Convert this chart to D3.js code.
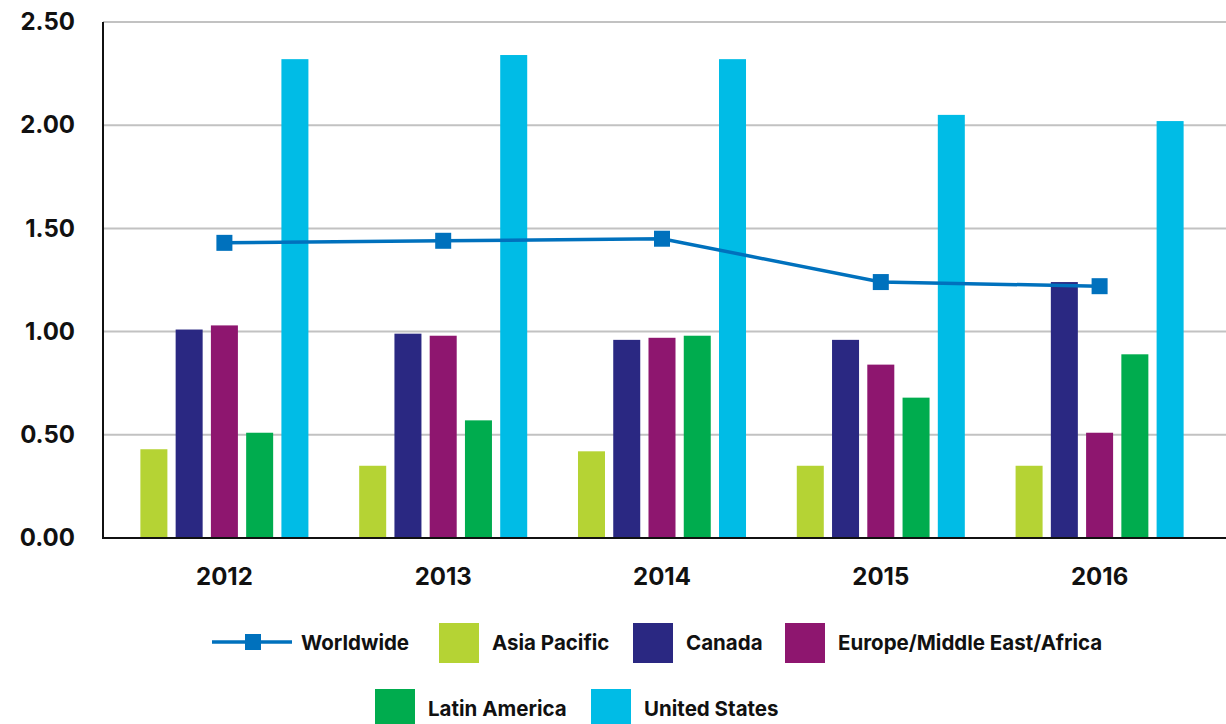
<!DOCTYPE html>
<html>
<head>
<meta charset="utf-8">
<script src="https://cdn.jsdelivr.net/npm/d3@7"></script>
<style>
  html, body { margin: 0; padding: 0; background: #fff; }
  svg { display: block; font-family: Inter, "Open Sans", sans-serif; }
</style>
</head>
<body>
<svg id="chart" width="1226" height="724"></svg>
<script>
// Years along the x axis
const years = ["2012", "2013", "2014", "2015", "2016"];

// Regional bar series
const seriesNames = ["Asia Pacific", "Canada", "Europe/Middle East/Africa", "Latin America", "United States"];
const asiaPacific   = [0.43, 0.35, 0.42, 0.35, 0.35];
const canada        = [1.01, 0.99, 0.96, 0.96, 1.24];
const emea          = [1.03, 0.98, 0.97, 0.84, 0.51];
const latinAmerica  = [0.51, 0.57, 0.98, 0.68, 0.89];
const unitedStates  = [2.32, 2.34, 2.32, 2.05, 2.02];

// Worldwide line series
const worldwide = [1.43, 1.44, 1.45, 1.24, 1.22];

// Y axis ticks
const yTicks = [0, 0.5, 1.0, 1.5, 2.0, 2.5];

const seriesValues = [asiaPacific, canada, emea, latinAmerica, unitedStates];
const seriesColors = ["#b5d334", "#2a2882", "#8e166f", "#00ac4e", "#00bce6"];
const lineColor = "#0071bd";

const svg = d3.select("#chart");
const plot = { left: 103, right: 1226, top: 22, bottom: 538 };

const x0 = d3.scaleBand().domain(years).range([115, 1209]).paddingInner(0).paddingOuter(0);
const x1 = d3.scaleBand().domain(seriesNames).range([0, x0.bandwidth()])
  .paddingInner(0.234).paddingOuter(0.72);
const y = d3.scaleLinear().domain([0, 2.5]).range([plot.bottom, plot.top]);

// Horizontal gridlines
svg.append("g")
  .selectAll("line")
  .data(yTicks.filter(t => t > 0))
  .join("line")
  .attr("x1", plot.left).attr("x2", plot.right)
  .attr("y1", d => y(d)).attr("y2", d => y(d))
  .attr("stroke", "#c2c2c2").attr("stroke-width", 2);

// Y axis labels
const yAxis = d3.axisLeft(y).tickValues(yTicks).tickFormat(d3.format(".2f")).tickSize(0).tickPadding(28);
const gy = svg.append("g").attr("transform", `translate(${plot.left},0)`).call(yAxis);
gy.select(".domain").remove();
gy.selectAll("text")
  .attr("font-family", "Inter, sans-serif")
  .attr("font-size", 24).attr("font-weight", 700).attr("fill", "#111");

// Bars
const rows = years.map((yr, i) => ({ year: yr, values: seriesNames.map((s, k) => ({ name: s, value: seriesValues[k][i], color: seriesColors[k] })) }));
svg.append("g")
  .selectAll("g")
  .data(rows)
  .join("g")
  .attr("transform", d => `translate(${x0(d.year)},0)`)
  .selectAll("rect")
  .data(d => d.values)
  .join("rect")
  .attr("x", d => x1(d.name))
  .attr("width", x1.bandwidth())
  .attr("y", d => y(d.value))
  .attr("height", d => y(0) - y(d.value))
  .attr("fill", d => d.color);

// Axis lines
svg.append("line").attr("x1", plot.left).attr("x2", plot.left).attr("y1", plot.top).attr("y2", plot.bottom + 1)
  .attr("stroke", "#111").attr("stroke-width", 2);
svg.append("line").attr("x1", plot.left).attr("x2", plot.right).attr("y1", plot.bottom).attr("y2", plot.bottom)
  .attr("stroke", "#111").attr("stroke-width", 2);

// X axis labels
const xAxis = d3.axisBottom(x0).tickSize(0).tickPadding(30);
const gx = svg.append("g").attr("transform", `translate(0,${plot.bottom})`).call(xAxis);
gx.select(".domain").remove();
gx.selectAll("text")
  .attr("font-family", "Inter, sans-serif")
  .attr("font-size", 24).attr("font-weight", 700).attr("fill", "#111");

// Worldwide line with square markers
const cx = yr => x0(yr) + x0.bandwidth() / 2;
const line = d3.line().x((d, i) => cx(years[i])).y(d => y(d));
svg.append("path").datum(worldwide)
  .attr("d", line).attr("fill", "none")
  .attr("stroke", lineColor).attr("stroke-width", 3.5);
svg.append("g").selectAll("rect")
  .data(worldwide)
  .join("rect")
  .attr("x", (d, i) => cx(years[i]) - 8)
  .attr("y", d => y(d) - 8)
  .attr("width", 16).attr("height", 16)
  .attr("fill", lineColor);

// Legend
const legend = svg.append("g").attr("font-family", "Inter, sans-serif")
  .attr("font-size", 20.5).attr("font-weight", 700).attr("fill", "#111");

const lw = legend.append("g").attr("transform", "translate(212,642)");
lw.append("line").attr("x1", 0).attr("x2", 80).attr("y1", 0).attr("y2", 0)
  .attr("stroke", lineColor).attr("stroke-width", 3.5);
lw.append("rect").attr("x", 33).attr("y", -8).attr("width", 16).attr("height", 16).attr("fill", lineColor);
lw.append("text").attr("x", 89).attr("y", 8).text("Worldwide");

const swatchPos = [[439, 623], [633, 623], [785, 623], [375, 689], [591, 689]];
seriesNames.forEach((name, k) => {
  const g = legend.append("g").attr("transform", `translate(${swatchPos[k][0]},${swatchPos[k][1]})`);
  g.append("rect").attr("width", 40).attr("height", 40).attr("fill", seriesColors[k]);
  g.append("text").attr("x", 53).attr("y", 27).text(name);
});
</script>
</body>
</html>
